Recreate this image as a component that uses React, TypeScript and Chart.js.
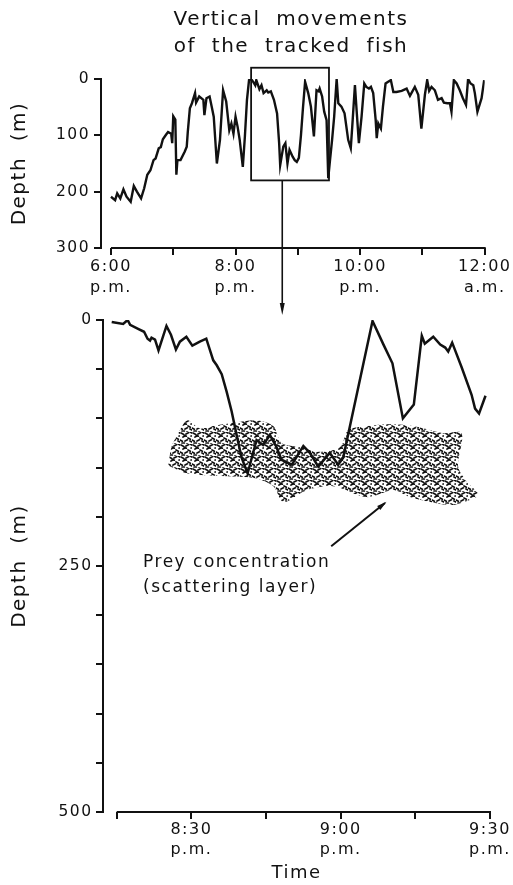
import React, { useEffect, useRef } from 'react';
import { Chart, registerables } from 'chart.js';

Chart.register(...registerables);

const FONT = '"DejaVu Sans", sans-serif';
const INK = '#111';

// ---- Top panel: whole evening (minutes after 6:00 p.m.) ----
const overviewMinutes = [
  0, 4, 6, 9, 12, 15, 19, 22, 25, 29, 32, 35, 38, 41, 43, 46, 48, 50, 53, 55, 58, 59, 60, 62, 63, 64, 67, 71, 73, 74,
  76, 78, 81, 82, 85, 87, 89, 90, 92, 95, 97, 99, 102, 105, 108, 111, 114, 116, 118, 120, 122, 124, 127, 129, 131, 133,
  135, 137, 139, 140, 143, 145, 147, 150, 151.5, 154, 157, 160, 162, 163, 166, 168, 170, 172, 175, 177, 179, 181, 183,
  185, 187, 190, 192.6, 195.5, 198, 200, 201, 203.4, 205.4, 207.7, 209.3, 211, 213, 215, 217.4, 219, 222, 225, 228.5,
  231, 232.4, 235, 236.6, 238.8, 241.4, 244, 246, 248.5, 250.4, 252.6, 255, 256, 257.5, 260, 262, 264.5, 267, 269.6,
  272, 275, 280, 284.8, 288, 292.7, 296, 299, 302.4, 304.6, 306.5, 308.8, 312, 315, 318.5, 320.7, 324, 326.5, 328,
  330.3, 333, 336, 339, 342, 344, 346.4, 349, 350.5, 353, 357, 359.5,
];
const overviewDepth = [
  209, 215, 203, 212, 196, 209, 218, 190, 200, 212, 194, 170, 162, 144, 141, 123, 121, 107, 99, 94, 97, 114, 66, 72, 170, 144, 144, 129, 120, 94,
  52, 43, 25, 42, 31, 34, 37, 64, 34, 31, 49, 67, 150, 108, 20, 40, 91, 79, 97, 67, 85, 108, 156, 102, 37, 2,
  0, 5, 11, 2, 18, 11, 25, 20, 24, 22, 37, 61, 114, 153, 120, 114, 150, 126, 138, 144, 147, 140, 100,
  50, 5, 25, 49, 102, 20, 22, 17, 31, 58, 73, 176, 144, 108, 67, 0, 43, 49, 61, 108,
  123, 85, 11, 55, 114, 67, 8, 14, 17, 14, 25, 73, 105, 79, 88, 49, 8, 5, 2,
  23, 23, 21, 17, 30, 14, 28, 88, 28, 2, 21, 14, 20, 37, 34, 42, 43, 43, 58,
  2, 8, 20, 34, 46, 0, 8, 11, 25, 58, 34, 2,
];
const overviewTicks = [0, 60, 120, 180, 240, 300, 360];
const overviewTickLabels: Record<number, string[]> = {
  0: ['6:00', 'p.m.'],
  120: ['8:00', 'p.m.'],
  240: ['10:00', 'p.m.'],
  360: ['12:00', 'a.m.'],
};
const overviewDepthTicks = [0, 100, 200, 300];
// enlarged window (minutes after 6 p.m., depth m)
const windowMinutes = [135, 210];
const windowDepth = [-20, 180];
const windowPointerMinute = 165;

// ---- Bottom panel: enlarged window (minutes after 8:00 p.m.) ----
const detailMinutes = [
  14, 16.3, 17.2, 17.7, 19.3, 20.5, 21.2, 21.7, 22, 22.7, 23.4, 25, 25.9, 26.9, 27.7, 29, 30.2, 31.7, 33, 34.4, 35.1,
  36.1, 37.1, 38.1, 39.1, 40.1, 41.3, 43.1, 44.4, 45.8, 47.1, 48.1, 50.2, 52.5, 53.8, 55.5, 57.8, 59.5, 60.5, 66.4,
  68.6, 70.4, 72.5, 74.7, 76.3, 76.9, 78.6, 80, 81, 81.6, 82.4, 84.3, 86.3, 87, 87.8, 89.1,
];
const detailDepth = [
  2, 4, 0, 5, 9, 12, 19, 21, 18, 20, 31, 6, 15, 30, 22, 17, 26, 22, 19, 41, 46,
  55, 73, 93, 117, 140, 156, 122, 127, 117, 129, 142, 147, 128, 135, 149, 135, 147, 140, 1,
  25, 44, 100, 86, 16, 24, 17, 25, 28, 32, 23, 48, 76, 90, 95, 77,
];
const detailTicks = [15, 30, 45, 60, 75, 90];
const detailTickLabels: Record<number, string[]> = {
  30: ['8:30', 'p.m.'],
  60: ['9:00', 'p.m.'],
  90: ['9:30', 'p.m.'],
};
const detailDepthTicks = [0, 50, 100, 150, 200, 250, 300, 350, 400, 450, 500];
const detailDepthLabels = [0, 250, 500];

// Prey concentration (scattering layer) outline
const preyUpperMinutes = [25.4, 26.0, 27.4, 29.2, 31.7, 35.1, 39.1, 43.1, 46.5, 48.1, 51.8, 55.8, 59.9, 61.5, 65.2, 69.2, 73.3, 76.6, 80.6, 84.3];
const preyUpperDepth = [147, 129, 115, 102, 110, 107, 104, 102, 108, 125, 129, 134, 129, 112, 108, 106, 107, 110, 115, 115];
const preyLowerMinutes = [83.6, 85.3, 87.6, 87.3, 82.6, 78, 73.9, 70.6, 65.2, 58.5, 53.2, 48.5, 46.5, 43.1, 38.4, 33.7, 29.1, 25.7];
const preyLowerDepth = [149, 164, 176, 180, 188, 185, 180, 173, 180, 169, 173, 185, 169, 161, 159, 158, 156, 149];

// Annotation
const preyLabelLines = ['Prey concentration', '(scattering layer)'];
const preyLabelAnchor = { minute: 20.3, depth: [247, 272] };
const preyArrowMinutes = [58.1, 68.9];
const preyArrowDepth = [230, 186];

function makeStipple(): CanvasPattern | string {
  const c = document.createElement('canvas');
  c.width = 12;
  c.height = 12;
  const g = c.getContext('2d');
  if (!g) return 'rgba(0,0,0,0.45)';
  g.strokeStyle = INK;
  g.lineWidth = 1.7;
  g.lineCap = 'round';
  const marks = [
    [1, 1, 1], [6, 2, -1], [10, 0, 1], [3, 5, -1], [8, 6, 1], [0, 8, 1],
    [5, 9, -1], [10, 9, 1], [2, 11, 0], [7, 12, 1], [11, 4, 0], [4, 3, 1],
  ];
  marks.forEach(([x, y, d]) => {
    g.beginPath();
    g.moveTo(x, y);
    g.lineTo(x + 2.4, y + d * 1.2);
    g.stroke();
  });
  return g.createPattern(c, 'repeat') || 'rgba(0,0,0,0.45)';
}

const spacing = {
  id: 'spacing',
  beforeUpdate(chart: any) { chart.ctx.letterSpacing = '1.5px'; },
  beforeDraw(chart: any) { chart.ctx.letterSpacing = '1.5px'; },
};

const overviewDecor = {
  id: 'overviewDecor',
  afterDraw(chart: any) {
    const { ctx, chartArea, scales } = chart;
    const x = scales.x;
    const y = scales.y;
    ctx.save();
    ctx.strokeStyle = INK;
    ctx.fillStyle = INK;
    ctx.lineWidth = 2;
    ctx.beginPath();
    ctx.moveTo(x.getPixelForValue(overviewTicks[0]), chartArea.bottom);
    ctx.lineTo(x.getPixelForValue(overviewTicks[overviewTicks.length - 1]) + 1, chartArea.bottom);
    ctx.stroke();
    const x0 = x.getPixelForValue(windowMinutes[0]);
    const x1 = x.getPixelForValue(windowMinutes[1]);
    const y0 = y.getPixelForValue(windowDepth[0]);
    const y1 = y.getPixelForValue(windowDepth[1]);
    ctx.lineWidth = 1.8;
    ctx.strokeRect(x0, y0, x1 - x0, y1 - y0);
    const cx = x.getPixelForValue(windowPointerMinute);
    const tip = chart.height - 5;
    ctx.lineWidth = 1.6;
    ctx.beginPath();
    ctx.moveTo(cx, y1);
    ctx.lineTo(cx, tip - 8);
    ctx.stroke();
    ctx.beginPath();
    ctx.moveTo(cx - 2.5, tip - 12);
    ctx.lineTo(cx + 2.5, tip - 12);
    ctx.lineTo(cx, tip);
    ctx.closePath();
    ctx.fill();
    ctx.restore();
  },
};

const detailDecor = {
  id: 'detailDecor',
  afterDraw(chart: any) {
    const { ctx, chartArea, scales } = chart;
    const x = scales.x;
    const y = scales.y;
    ctx.save();
    ctx.strokeStyle = INK;
    ctx.fillStyle = INK;
    ctx.lineWidth = 2;
    ctx.beginPath();
    ctx.moveTo(x.getPixelForValue(detailTicks[0]), chartArea.bottom);
    ctx.lineTo(x.getPixelForValue(detailTicks[detailTicks.length - 1]) + 1, chartArea.bottom);
    ctx.stroke();
    ctx.letterSpacing = '1.5px';
    ctx.font = `17px ${FONT}`;
    ctx.textAlign = 'left';
    ctx.textBaseline = 'middle';
    preyLabelLines.forEach((line, i) => {
      ctx.fillText(line, x.getPixelForValue(preyLabelAnchor.minute), y.getPixelForValue(preyLabelAnchor.depth[i]));
    });
    const ax0 = x.getPixelForValue(preyArrowMinutes[0]);
    const ay0 = y.getPixelForValue(preyArrowDepth[0]);
    const ax1 = x.getPixelForValue(preyArrowMinutes[1]);
    const ay1 = y.getPixelForValue(preyArrowDepth[1]);
    ctx.lineWidth = 2;
    ctx.beginPath();
    ctx.moveTo(ax0, ay0);
    ctx.lineTo(ax1, ay1);
    ctx.stroke();
    const ang = Math.atan2(ay1 - ay0, ax1 - ax0);
    ctx.beginPath();
    ctx.moveTo(ax1 + 2 * Math.cos(ang), ay1 + 2 * Math.sin(ang));
    ctx.lineTo(ax1 - 8 * Math.cos(ang) + 2.5 * Math.sin(ang), ay1 - 8 * Math.sin(ang) - 2.5 * Math.cos(ang));
    ctx.lineTo(ax1 - 8 * Math.cos(ang) - 2.5 * Math.sin(ang), ay1 - 8 * Math.sin(ang) + 2.5 * Math.cos(ang));
    ctx.closePath();
    ctx.fill();
    ctx.restore();
  },
};

const gridOpts = {
  display: true,
  drawOnChartArea: false,
  drawTicks: true,
  tickLength: 7,
  color: INK,
  lineWidth: 2,
};

export default function App() {
  const topRef = useRef<HTMLCanvasElement>(null);
  const botRef = useRef<HTMLCanvasElement>(null);

  useEffect(() => {
    Chart.defaults.font.family = FONT;
    Chart.defaults.color = INK;

    const top = new Chart(topRef.current as HTMLCanvasElement, {
      type: 'line',
      data: {
        datasets: [
          {
            data: overviewMinutes.map((m, i) => ({ x: m, y: overviewDepth[i] })),
            borderColor: INK,
            borderWidth: 2.4,
            pointRadius: 0,
            tension: 0,
            fill: false,
          },
        ],
      },
      options: {
        responsive: false,
        animation: false,
        events: [],
        layout: { padding: { top: 79, right: 28, left: 0, bottom: 0 } },
        plugins: { legend: { display: false }, tooltip: { enabled: false } },
        scales: {
          x: {
            type: 'linear',
            min: -9.6,
            max: 360,
            afterBuildTicks: (s: any) => { s.ticks = overviewTicks.map((v) => ({ value: v })); },
            afterFit: (s: any) => { s.height = 72; },
            grid: gridOpts,
            border: { display: false },
            ticks: {
              autoSkip: false,
              maxRotation: 0,
              padding: 1.5,
              font: { size: 16, family: FONT, lineHeight: 1.3 },
              color: INK,
              callback: (v: any) => overviewTickLabels[v as number] ?? '',
            },
          },
          y: {
            type: 'linear',
            reverse: true,
            min: 0,
            max: 300,
            afterBuildTicks: (s: any) => { s.ticks = overviewDepthTicks.map((v) => ({ value: v })); },
            afterFit: (s: any) => { s.width = 101; },
            grid: gridOpts,
            border: { display: true, color: INK, width: 2 },
            ticks: {
              autoSkip: false,
              padding: 4,
              font: { size: 15.5, family: FONT },
              color: INK,
              callback: (v: any) => String(v),
            },
            title: {
              display: true,
              text: 'Depth  (m)',
              font: { size: 20, family: FONT },
              color: INK,
              padding: { top: 8, bottom: 0 },
            },
          },
        },
      },
      plugins: [spacing, overviewDecor],
    } as any);

    const stipple = makeStipple();
    const preyOutline = [
      ...preyUpperMinutes.map((m, i) => ({ x: m, y: preyUpperDepth[i] })),
      ...preyLowerMinutes.map((m, i) => ({ x: m, y: preyLowerDepth[i] })),
    ];

    const bot = new Chart(botRef.current as HTMLCanvasElement, {
      type: 'line',
      data: {
        datasets: [
          {
            data: preyOutline,
            borderColor: 'rgba(0,0,0,0)',
            borderWidth: 0,
            backgroundColor: stipple,
            pointRadius: 0,
            tension: 0.3,
            fill: 'shape',
            order: 2,
          },
          {
            data: detailMinutes.map((m, i) => ({ x: m, y: detailDepth[i] })),
            borderColor: INK,
            borderWidth: 2.5,
            pointRadius: 0,
            tension: 0,
            fill: false,
            order: 1,
          },
        ],
      },
      options: {
        responsive: false,
        animation: false,
        events: [],
        layout: { padding: { top: 20, right: 23, left: 0, bottom: 0 } },
        plugins: { legend: { display: false }, tooltip: { enabled: false } },
        scales: {
          x: {
            type: 'linear',
            min: 12.25,
            max: 90,
            afterBuildTicks: (s: any) => { s.ticks = detailTicks.map((v) => ({ value: v })); },
            afterFit: (s: any) => { s.height = 73; },
            grid: gridOpts,
            border: { display: false },
            ticks: {
              autoSkip: false,
              maxRotation: 0,
              padding: 0,
              font: { size: 16, family: FONT, lineHeight: 1.3 },
              color: INK,
              callback: (v: any) => detailTickLabels[v as number] ?? '',
            },
            title: {
              display: true,
              text: 'Time',
              font: { size: 18, family: FONT },
              color: INK,
              padding: { top: 0, bottom: 1 },
            },
          },
          y: {
            type: 'linear',
            reverse: true,
            min: 0,
            max: 500,
            afterBuildTicks: (s: any) => { s.ticks = detailDepthTicks.map((v) => ({ value: v })); },
            afterFit: (s: any) => { s.width = 103; },
            grid: gridOpts,
            border: { display: true, color: INK, width: 2 },
            ticks: {
              autoSkip: false,
              padding: 3.5,
              font: { size: 15.5, family: FONT },
              color: INK,
              callback: (v: any) => (detailDepthLabels.includes(v as number) ? String(v) : ''),
            },
            title: {
              display: true,
              text: 'Depth  (m)',
              font: { size: 20, family: FONT },
              color: INK,
              padding: { top: 8, bottom: 0 },
            },
          },
        },
      },
      plugins: [spacing, detailDecor],
    } as any);

    return () => {
      top.destroy();
      bot.destroy();
    };
  }, []);

  return (
    <div style={{ position: 'absolute', left: 0, top: 0, width: 513, height: 885, background: '#fff', overflow: 'hidden' }}>
      <canvas ref={botRef} width={513} height={585} style={{ position: 'absolute', left: 0, top: 300 }} />
      <canvas ref={topRef} width={513} height={320} style={{ position: 'absolute', left: 0, top: 0 }} />
      <div
        style={{
          position: 'absolute',
          left: 291,
          top: 5,
          transform: 'translateX(-50%)',
          whiteSpace: 'nowrap',
          textAlign: 'center',
          fontFamily: FONT,
          fontSize: 20,
          lineHeight: '26.5px',
          letterSpacing: '1.5px',
          wordSpacing: '8px',
          color: INK,
        }}
      >
        Vertical movements
        <br />
        of the tracked fish
      </div>
    </div>
  );
}
